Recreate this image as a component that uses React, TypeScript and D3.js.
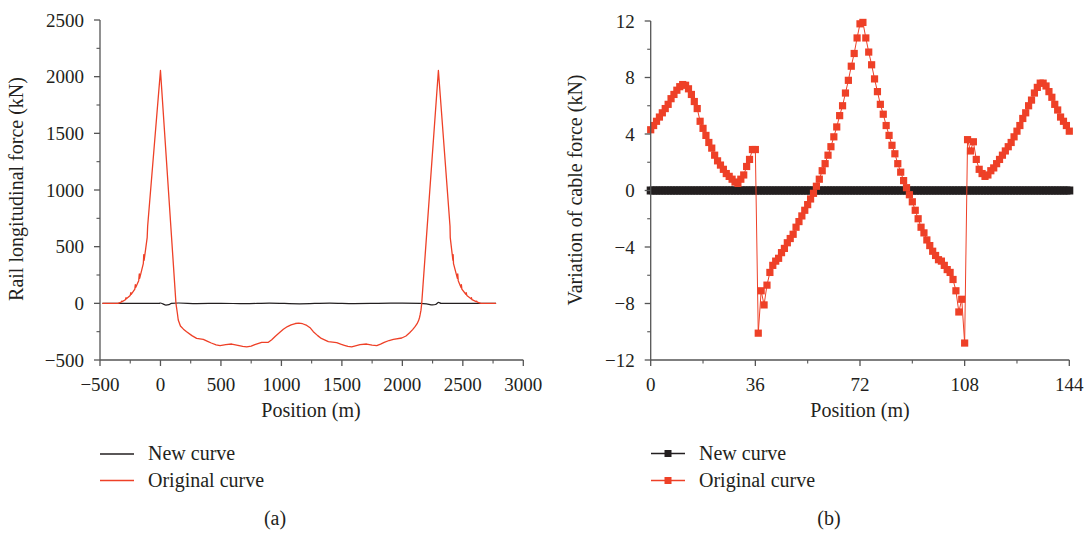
import React from "react";
import * as d3 from "d3";

// ---------- Panel (a) data ----------
const origCurveX = [
  -480, -352, -325, -320, -317, -290, -285, -282, -250, -245, -242, -212, -208, -205, -180, -175, -172,
  -142, -138, -135, -110, -106, 0, 128, 140, 147, 165, 190, 216, 260, 299, 354, 390, 420, 460, 493,
  540, 589, 640, 680, 713, 750, 780, 837, 892, 920, 950, 985, 1016, 1050, 1080, 1115, 1143, 1175, 1210,
  1240, 1264, 1300, 1330, 1388, 1457, 1490, 1520, 1550, 1581, 1650, 1705, 1750, 1788, 1820, 1850, 1890,
  1926, 1995, 2030, 2060, 2085, 2105, 2122, 2135, 2142, 2147, 2154, 2160, 2298, 2394, 2396, 2418, 2420,
  2423, 2455, 2458, 2462, 2485, 2488, 2492, 2525, 2528, 2533, 2568, 2571, 2576, 2610, 2614, 2620,
  2650, 2775,
];
const origCurveY = [
  0, 0, 10, 20, 15, 32, 50, 40, 70, 95, 80, 125, 165, 140, 200, 260, 220, 350, 430, 380, 580, 680,
  2055, 0, -90, -147, -200, -228, -250, -285, -309, -318, -335, -350, -366, -374, -365, -359, -370,
  -380, -385, -378, -365, -344, -344, -322, -290, -258, -229, -205, -190, -178, -174, -180, -195,
  -218, -250, -285, -310, -338, -347, -360, -370, -380, -385, -365, -359, -368, -374, -360, -345,
  -328, -318, -306, -288, -260, -232, -206, -180, -150, -125, -100, -60, 0, 2055, 680, 580, 380, 430,
  350, 220, 260, 200, 140, 165, 125, 80, 95, 70, 40, 50, 32, 15, 20, 10, 0, 0,
];
const newCurveX = [
  -480, -10, 0, 20, 45, 70, 90, 150, 300, 500, 700, 900, 1150, 1400, 1600, 1800, 2000, 2150, 2200,
  2250, 2275, 2300, 2320, 2775,
];
const newCurveY = [0, 0, 3, -5, -15, -12, 0, 3, -2, 0, -3, 2, -4, 2, -2, 0, 2, 0, -5, -14, -10, 8, 0, 0];

const aXTicks = [-500, 0, 500, 1000, 1500, 2000, 2500, 3000];
const aXMinor = [-250, 250, 750, 1250, 1750, 2250, 2750];
const aYTicks = [-500, 0, 500, 1000, 1500, 2000, 2500];
const aYMinor = [-250, 250, 750, 1250, 1750, 2250];

// ---------- Panel (b) data ----------
const cablePos = d3.range(0, 145); // positions 0..144 m, 1 m apart
const origCable = [
  4.3, 4.6, 4.9, 5.2, 5.5, 5.8, 6.1, 6.5, 6.8, 7.1, 7.35, 7.5, 7.45, 7.2, 6.8, 6.3, 5.8, 4.9, 4.4, 3.9,
  3.4, 3.0, 2.5, 2.1, 1.8, 1.5, 1.2, 1.0, 0.8, 0.6, 0.5, 0.8, 1.1, 1.7, 2.2, 2.9, 2.9, -10.1, -7.1,
  -8.1, -6.7, -5.8, -5.3, -5.0, -4.8, -4.4, -4.1, -3.7, -3.4, -3.1, -2.6, -2.2, -1.8, -1.4, -1.0, -0.6,
  -0.2, 0.3, 0.8, 1.4, 1.9, 2.5, 3.1, 3.8, 4.5, 5.3, 6.0, 6.9, 7.8, 8.8, 9.7, 10.8, 11.8, 11.9, 10.8,
  9.8, 8.9, 7.9, 7.0, 6.1, 5.4, 4.6, 3.9, 3.2, 2.6, 1.9, 1.3, 0.7, 0.2, -0.3, -0.8, -1.4, -2.0, -2.6,
  -3.0, -3.5, -3.9, -4.3, -4.6, -4.9, -5.0, -5.3, -5.6, -5.8, -6.3, -7.1, -8.6, -7.7, -10.8, 3.6, 2.8,
  3.45, 2.2, 1.5, 1.2, 1.0, 1.1, 1.4, 1.6, 1.9, 2.2, 2.5, 2.8, 3.1, 3.4, 3.8, 4.2, 4.6, 5.1, 5.5, 6.0,
  6.4, 6.9, 7.3, 7.6, 7.6, 7.4, 7.0, 6.6, 6.1, 5.7, 5.2, 4.9, 4.6, 4.2,
];
const newCable = cablePos.map(() => 0);

const bXTicks = [0, 36, 72, 108, 144];
const bXMinor = [18, 54, 90, 126];
const bYTicks = [-12, -8, -4, 0, 4, 8, 12];
const bYMinor = [-10, -6, -2, 2, 6, 10];

const legendLabels = ["New curve", "Original curve"];

const RED = "#EE4027";
const BLACK = "#231F20";
const AXIS = "#555";
const FONT = "'Liberation Serif', 'Times New Roman', serif";
const TICK_FS = 19;
const TITLE_FS = 20;

function fmt(v: number) {
  return v < 0 ? "\u2212" + Math.abs(v) : String(v);
}

function Axes({ x, y, xt, xm, yt, ym }: any) {
  const [x0, x1] = x.range();
  const [y0, y1] = y.range();
  return (
    <g>
      <line x1={x0} x2={x1} y1={y0} y2={y0} stroke={AXIS} strokeWidth={1.3} />
      <line x1={x0} x2={x0} y1={y0} y2={y1} stroke={AXIS} strokeWidth={1.3} />
      {xt.map((t: number) => (
        <g key={"xt" + t}>
          <line x1={x(t)} x2={x(t)} y1={y0} y2={y0 + 6} stroke={AXIS} strokeWidth={1.3} />
          <text x={x(t)} y={y0 + 31} textAnchor="middle" fontSize={TICK_FS} fill={BLACK}>
            {fmt(t)}
          </text>
        </g>
      ))}
      {xm.map((t: number) => (
        <line key={"xm" + t} x1={x(t)} x2={x(t)} y1={y0} y2={y0 + 3.5} stroke={AXIS} strokeWidth={1.1} />
      ))}
      {yt.map((t: number) => (
        <g key={"yt" + t}>
          <line x1={x0 - 6} x2={x0} y1={y(t)} y2={y(t)} stroke={AXIS} strokeWidth={1.3} />
          <text x={x0 - 16} y={y(t) + 6.5} textAnchor="end" fontSize={TICK_FS} fill={BLACK}>
            {fmt(t)}
          </text>
        </g>
      ))}
      {ym.map((t: number) => (
        <line key={"ym" + t} x1={x0 - 3.5} x2={x0} y1={y(t)} y2={y(t)} stroke={AXIS} strokeWidth={1.1} />
      ))}
    </g>
  );
}

export default function App() {
  // Panel (a)
  const xa = d3.scaleLinear().domain([-500, 3000]).range([100, 523.3]);
  const ya = d3.scaleLinear().domain([-500, 2500]).range([360, 20]);
  const origPts = origCurveX.map((v, i) => [v, origCurveY[i]] as [number, number]);
  const newPts = newCurveX.map((v, i) => [v, newCurveY[i]] as [number, number]);
  const lineA = d3
    .line<[number, number]>()
    .x((d) => xa(d[0]))
    .y((d) => ya(d[1]));
  const smoothA = d3
    .line<[number, number]>()
    .x((d) => xa(d[0]))
    .y((d) => ya(d[1]))
    .curve(d3.curveMonotoneX);

  // Panel (b)
  const xb = d3.scaleLinear().domain([0, 144]).range([650.7, 1069.3]);
  const yb = d3.scaleLinear().domain([-12, 12]).range([360, 21]);
  const lineB = d3
    .line<number>()
    .x((_, i) => xb(cablePos[i]))
    .y((d) => yb(d));
  const ms = 7.2;

  return (
    <svg
      width={1091}
      height={533}
      style={{ position: "absolute", left: 0, top: 0, background: "#fff" }}
      fontFamily={FONT}
    >
      {/* Panel (a) */}
      <path d={smoothA(newPts) || ""} fill="none" stroke={BLACK} strokeWidth={1.2} />
      <path d={lineA(origPts) || ""} fill="none" stroke={RED} strokeWidth={1.3} strokeLinejoin="round" />
      <Axes x={xa} y={ya} xt={aXTicks} xm={aXMinor} yt={aYTicks} ym={aYMinor} />
      <text
        transform={`translate(23,189) rotate(-90)`}
        textAnchor="middle"
        fontSize={TITLE_FS}
        fill={BLACK}
      >
        Rail longitudinal force (kN)
      </text>
      <text x={311} y={417} textAnchor="middle" fontSize={TITLE_FS} fill={BLACK}>
        Position (m)
      </text>
      {legendLabels.map((lab, i) => (
        <g key={"la" + i}>
          <line
            x1={100}
            x2={134}
            y1={454 + i * 26.5}
            y2={454 + i * 26.5}
            stroke={i === 0 ? BLACK : RED}
            strokeWidth={1.3}
          />
          <text x={148} y={460 + i * 26.5} fontSize={TITLE_FS} fill={BLACK}>
            {lab}
          </text>
        </g>
      ))}
      <text x={275} y={525} textAnchor="middle" fontSize={TITLE_FS} fill={BLACK}>
        (a)
      </text>

      {/* Panel (b) */}
      <path d={lineB(newCable) || ""} fill="none" stroke={BLACK} strokeWidth={1} />
      {newCable.map((v, i) => (
        <rect key={"nb" + i} x={xb(cablePos[i]) - 4} y={yb(v) - 4} width={8} height={8} fill={BLACK} />
      ))}
      <path d={lineB(origCable) || ""} fill="none" stroke={RED} strokeWidth={1} />
      {origCable.map((v, i) => (
        <rect
          key={"ob" + i}
          x={xb(cablePos[i]) - ms / 2}
          y={yb(v) - ms / 2}
          width={ms}
          height={ms}
          fill={RED}
        />
      ))}
      <Axes x={xb} y={yb} xt={bXTicks} xm={bXMinor} yt={bYTicks} ym={bYMinor} />
      <text
        transform={`translate(582,190) rotate(-90)`}
        textAnchor="middle"
        fontSize={TITLE_FS}
        fill={BLACK}
      >
        Variation of cable force (kN)
      </text>
      <text x={860} y={417} textAnchor="middle" fontSize={TITLE_FS} fill={BLACK}>
        Position (m)
      </text>
      {legendLabels.map((lab, i) => {
        const yy = 453.5 + i * 27;
        const c = i === 0 ? BLACK : RED;
        return (
          <g key={"lb" + i}>
            <line x1={651} x2={685} y1={yy} y2={yy} stroke={c} strokeWidth={1.3} />
            <rect x={668 - 3.5} y={yy - 3.5} width={7} height={7} fill={c} />
            <text x={699} y={yy + 6} fontSize={TITLE_FS} fill={BLACK}>
              {lab}
            </text>
          </g>
        );
      })}
      <text x={829} y={525} textAnchor="middle" fontSize={TITLE_FS} fill={BLACK}>
        (b)
      </text>
    </svg>
  );
}
